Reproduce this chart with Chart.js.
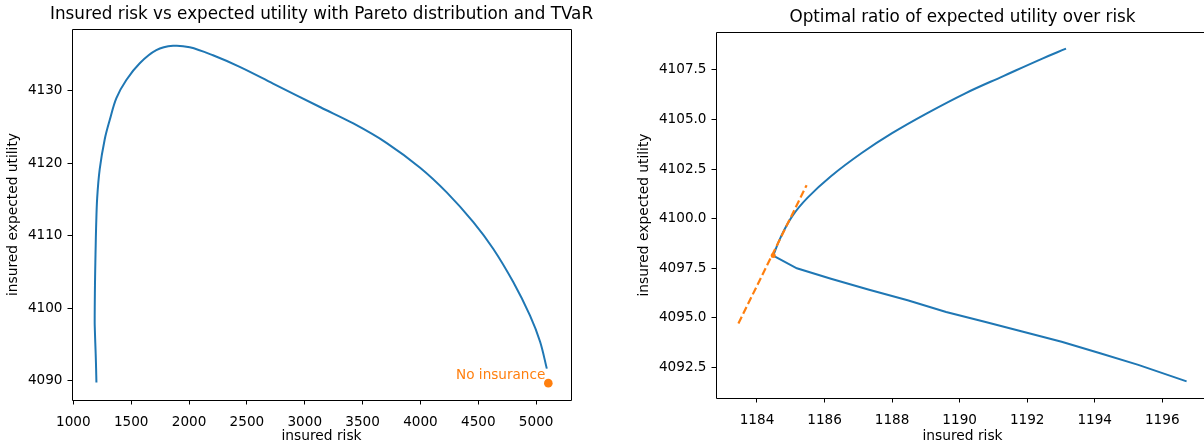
<!DOCTYPE html>
<html lang="en">
<head>
<meta charset="UTF-8">
<title>Insured risk vs expected utility</title>
<script src="https://cdn.jsdelivr.net/npm/chart.js"></script>
<style>
    html, body {
        margin: 0;
        background: #fff;
        overflow: hidden;
    }
    body {
        width: 1204px;
        height: 447px;
        position: relative;
    }
    .panel { position: absolute; top: 0; height: 447px; }
    #left { left: 0; width: 600px; }
    #right { left: 600px; width: 640px; }
</style>
</head>
<body>
<div class="panel" id="left"><canvas id="riskChart" width="600" height="447"></canvas></div>
<div class="panel" id="right"><canvas id="ratioChart" width="640" height="447"></canvas></div>

<script>
// full frontier (left panel)
const riskCurve = [1199.5, 1196.7, 1194.2, 1191.9, 1189.6, 1187.3, 1185.2, 1184.5, 1185.05, 1186.2,
    1188.0, 1190.2, 1193.15, 1196.5, 1206, 1228, 1271, 1315, 1372, 1458, 1574, 1717, 1862, 2006,
    2207, 2438, 2726, 3140, 3420, 3709, 3997, 4227, 4457, 4630, 4803, 4947, 5034, 5092];
const utilityCurve = [4089.8, 4091.8, 4093.2, 4094.3, 4095.3, 4096.4, 4097.5, 4098.1, 4100.1, 4102.1,
    4104.3, 4106.3, 4108.6, 4111.0, 4115.2, 4119.2, 4123.3, 4126.0, 4129.0, 4131.5, 4133.8, 4135.6, 4136.2, 4136.0,
    4134.9, 4133.3, 4131.0, 4127.7, 4125.5, 4122.8, 4119.4, 4116.0, 4111.9, 4108.2, 4103.6, 4099.0, 4095.4, 4091.7];
const noInsuranceRisk = [5105];
const noInsuranceUtility = [4089.7];
const noInsuranceLabel = 'No insurance';

// close-up near the optimum (right panel), upper and lower branch
const upperRisk = [1184.48, 1184.7, 1185.05, 1185.5, 1186.19, 1187.1, 1188.0, 1189.03, 1190.17, 1191.31, 1192.45, 1193.15];
const upperUtility = [4098.14, 4099.06, 4100.14, 4101.06, 4102.14, 4103.31, 4104.31, 4105.31, 4106.32, 4107.2, 4108.07, 4108.57];
const lowerRisk = [1184.48, 1185.18, 1186.19, 1187.32, 1188.46, 1189.6, 1190.74, 1191.88, 1193.02, 1194.16, 1195.29, 1196.72];
const lowerUtility = [4098.14, 4097.5, 4096.97, 4096.42, 4095.89, 4095.3, 4094.8, 4094.3, 4093.8, 4093.22, 4092.63, 4091.8];
const tangentRisk = [1183.45, 1185.47];
const tangentUtility = [4094.72, 4101.69];
const optimumRisk = [1184.48];
const optimumUtility = [4098.14];

const leftXTicks = [1000, 1500, 2000, 2500, 3000, 3500, 4000, 4500, 5000];
const leftYTicks = [4090, 4100, 4110, 4120, 4130];
const rightXTicks = [1184, 1186, 1188, 1190, 1192, 1194, 1196];
const rightYTicks = [4092.5, 4095.0, 4097.5, 4100.0, 4102.5, 4105.0, 4107.5];

const blue = '#1f77b4';
const orange = '#ff7f0e';
const FONT = '"DejaVu Sans", sans-serif';

function pts(xs, ys) {
    return xs.map((x, i) => ({ x: x, y: ys[i] }));
}

// matplotlib-like 5% autoscale margin
function padded(...lists) {
    const all = [].concat(...lists);
    const lo = Math.min(...all), hi = Math.max(...all);
    const m = (hi - lo) * 0.05;
    return [lo - m, hi + m];
}

function axis(tickList, range, fmt, label, titlePad, size, tickPad) {
    return {
        type: 'linear',
        min: range[0],
        max: range[1],
        afterBuildTicks: s => { s.ticks = tickList.map(v => ({ value: v })); },
        afterFit: s => { if (s.isHorizontal()) s.height = size; else s.width = size; },
        border: { display: false },
        grid: { drawOnChartArea: false, drawTicks: true, tickLength: 4.5, color: '#000', lineWidth: 1 },
        ticks: { color: '#000', font: { family: FONT, size: 13.6 }, padding: tickPad, maxRotation: 0, autoSkip: false, callback: fmt },
        title: { display: true, text: label, color: '#000', font: { family: FONT, size: 13.8 }, padding: titlePad }
    };
}

// spines around the plot area + title centred over it
const frame = {
    id: 'frame',
    afterDraw(chart, args, opts) {
        const { ctx, chartArea: a } = chart;
        const l = Math.round(a.left) + 0.5, r = Math.round(a.right) + 0.5;
        const t = Math.round(a.top) + 0.5, b = Math.round(a.bottom) + 0.5;
        ctx.save();
        ctx.strokeStyle = '#000';
        ctx.lineWidth = 1;
        ctx.beginPath();
        ctx.moveTo(r, t); ctx.lineTo(l, t); ctx.lineTo(l, b); ctx.lineTo(r, b);
        ctx.moveTo(r, t); ctx.lineTo(r, b);
        ctx.stroke();
        ctx.fillStyle = '#000';
        ctx.font = '16.8px ' + FONT;
        ctx.textAlign = 'center';
        ctx.textBaseline = 'middle';
        ctx.fillText(opts.text, (a.left + a.right) / 2, opts.y);
        ctx.restore();
    }
};

const noteLabel = {
    id: 'noteLabel',
    afterDatasetsDraw(chart) {
        const { ctx, scales } = chart;
        const px = scales.x.getPixelForValue(noInsuranceRisk[0]);
        const py = scales.y.getPixelForValue(noInsuranceUtility[0]);
        ctx.save();
        ctx.fillStyle = orange;
        ctx.font = '13.6px ' + FONT;
        ctx.textAlign = 'right';
        ctx.textBaseline = 'alphabetic';
        ctx.fillText(noInsuranceLabel, px - 3, py - 4);
        ctx.restore();
    }
};

const intFmt = v => String(v);
const oneDec = v => v.toFixed(1);

new Chart(document.getElementById('riskChart'), {
    type: 'scatter',
    data: {
        datasets: [
            { data: pts(riskCurve, utilityCurve), showLine: true, borderColor: blue, borderWidth: 2,
              pointRadius: 0, tension: 0.35, order: 2 },
            { data: pts(noInsuranceRisk, noInsuranceUtility), backgroundColor: orange, borderColor: orange,
              pointRadius: 4.3, borderWidth: 0, order: 1 }
        ]
    },
    options: {
        responsive: false,
        animation: false,
        devicePixelRatio: 1,
        layout: { padding: { top: 29, right: 29, bottom: 0, left: 0 } },
        plugins: {
            legend: { display: false },
            tooltip: { enabled: false },
            frame: { text: 'Insured risk vs expected utility with Pareto distribution and TVaR', y: 14.5 }
        },
        scales: {
            x: axis(leftXTicks, padded(riskCurve, noInsuranceRisk), intFmt, 'insured risk', { top: 2, bottom: 2 }, 47, 10),
            y: axis(leftYTicks, padded(utilityCurve, noInsuranceUtility), intFmt, 'insured expected utility', { top: 5, bottom: 2 }, 72, 5)
        }
    },
    plugins: [frame, noteLabel]
});

new Chart(document.getElementById('ratioChart'), {
    type: 'scatter',
    data: {
        datasets: [
            { data: pts(upperRisk, upperUtility), showLine: true, borderColor: blue, borderWidth: 2,
              pointRadius: 0, tension: 0.4, order: 3 },
            { data: pts(lowerRisk, lowerUtility), showLine: true, borderColor: blue, borderWidth: 2,
              pointRadius: 0, tension: 0, order: 3 },
            { data: pts(tangentRisk, tangentUtility), showLine: true, borderColor: orange, borderWidth: 2.2,
              borderDash: [7.5, 3.3], pointRadius: 0, order: 2 },
            { data: pts(optimumRisk, optimumUtility), backgroundColor: orange, borderColor: orange,
              pointRadius: 2.5, borderWidth: 0, order: 1 }
        ]
    },
    options: {
        responsive: false,
        animation: false,
        devicePixelRatio: 1,
        layout: { padding: { top: 32, right: 31, bottom: 0, left: 0 } },
        plugins: {
            legend: { display: false },
            tooltip: { enabled: false },
            frame: { text: 'Optimal ratio of expected utility over risk', y: 18 }
        },
        scales: {
            x: axis(rightXTicks, padded(upperRisk, lowerRisk, tangentRisk), intFmt, 'insured risk', { top: 2, bottom: 2 }, 49, 10),
            y: axis(rightYTicks, padded(upperUtility, lowerUtility, tangentUtility), oneDec, 'insured expected utility', { top: 36, bottom: 2 }, 116, 5)
        }
    },
    plugins: [frame]
});
</script>
</body>
</html>
